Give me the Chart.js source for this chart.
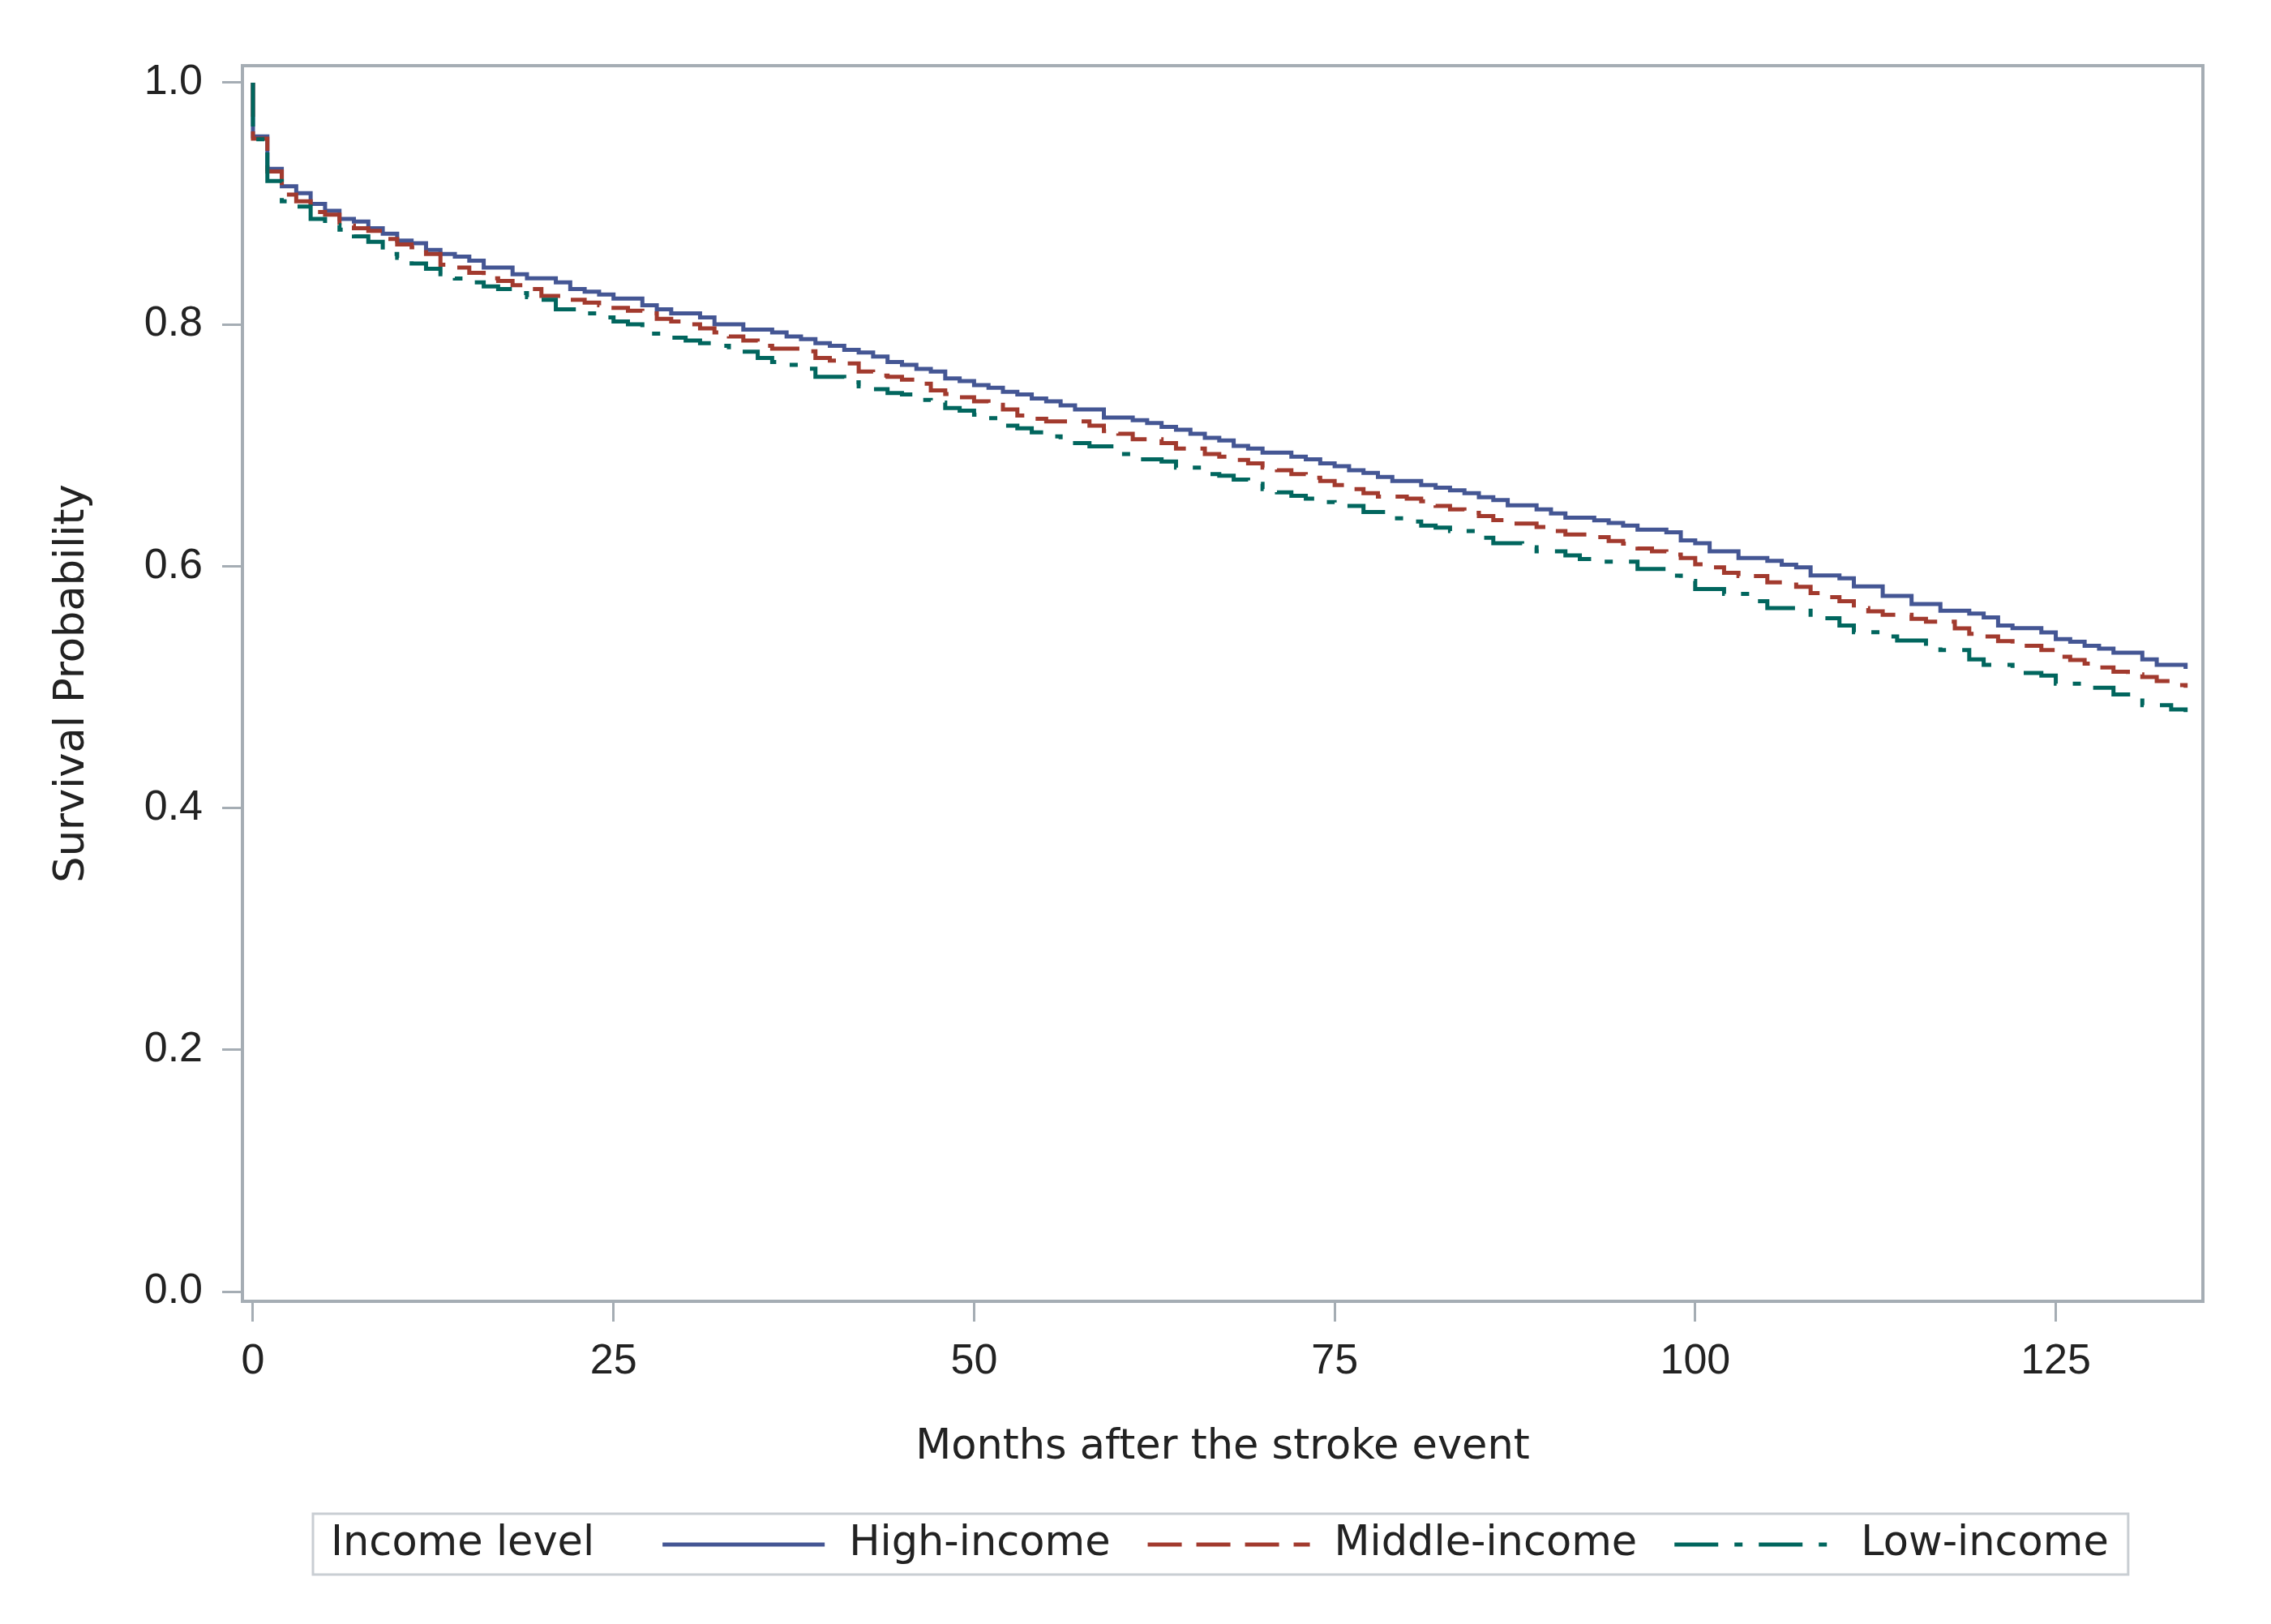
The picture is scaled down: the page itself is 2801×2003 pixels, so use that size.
<!DOCTYPE html>
<html>
<head>
<meta charset="utf-8">
<title>Survival by income level</title>
<script src="https://cdn.jsdelivr.net/npm/chart.js@4.4.1/dist/chart.umd.min.js"></script>
<style>
  html, body { margin: 0; padding: 0; background: #fff; overflow: hidden; }
  canvas { display: block; }
</style>
</head>
<body>
<canvas id="kmChart" width="2801" height="2003"></canvas>
<script>
// Kaplan-Meier step points (month of the drop, survival after it)
var highMonths = [0, 0, 1, 2, 3, 4, 5, 6, 7, 8, 9, 10, 11, 12, 13, 14, 15, 16, 18, 19, 21, 22, 23, 24, 25, 27, 28, 29, 31, 32,
    34, 36, 37, 38, 39, 40, 41, 42, 43, 44, 45, 46, 47, 48, 49, 50, 51, 52, 53, 54, 55, 56, 57, 59, 61, 62, 63, 64, 65, 66,
    67, 68, 69, 70, 72, 73, 74, 75, 76, 77, 78, 79, 81, 82, 83, 84, 85, 86, 87, 89, 90, 91, 93, 94, 95, 96, 98, 99, 100, 101,
    103, 105, 106, 107, 108, 110, 111, 113, 115, 117, 119, 120, 121, 122, 124, 125, 126, 127, 128, 129, 131, 132, 134];
var highSurv = [1.0, 0.9555, 0.9287, 0.9142, 0.9086, 0.8996, 0.894, 0.8873, 0.8851, 0.8795, 0.875, 0.8694, 0.8672, 0.8616, 0.8583, 0.856, 0.8527, 0.8471, 0.8415, 0.8382, 0.8348, 0.8292, 0.827, 0.8248, 0.8214, 0.8158, 0.8124, 0.8091, 0.8058, 0.8001,
    0.7957, 0.7934, 0.7901, 0.7879, 0.7845, 0.7823, 0.7789, 0.7767, 0.7734, 0.7689, 0.7666, 0.7632, 0.761, 0.7553, 0.7532, 0.7498, 0.7476, 0.7442, 0.742, 0.7387, 0.7364, 0.7331, 0.7297, 0.723, 0.7208, 0.7185, 0.7152, 0.7129, 0.7096, 0.7062,
    0.704, 0.6995, 0.6973, 0.694, 0.6906, 0.6884, 0.685, 0.6828, 0.6794, 0.6772, 0.6739, 0.6705, 0.6671, 0.6649, 0.6627, 0.6604, 0.6571, 0.6548, 0.6504, 0.647, 0.6436, 0.6402, 0.638, 0.6358, 0.6336, 0.6302, 0.628, 0.6213, 0.619, 0.6123,
    0.6068, 0.6045, 0.6012, 0.599, 0.5923, 0.59, 0.5833, 0.5755, 0.5688, 0.5632, 0.5609, 0.5576, 0.5509, 0.5487, 0.5453, 0.5397, 0.5375, 0.5341, 0.5319, 0.5285, 0.5229, 0.5185, 0.5151];

var middleMonths = [0, 0, 1, 2, 3, 4, 5, 6, 7, 8, 9, 10, 11, 12, 13, 14, 15, 16, 17, 18, 19, 20, 22, 23, 24, 25, 26, 27, 28, 29,
    30, 31, 32, 33, 34, 35, 36, 38, 39, 40, 41, 42, 43, 44, 45, 46, 47, 48, 49, 50, 51, 52, 53, 54, 55, 58, 59, 60, 61, 63,
    64, 66, 67, 68, 69, 70, 71, 72, 73, 74, 75, 76, 77, 78, 80, 81, 82, 83, 84, 85, 86, 87, 89, 90, 91, 93, 94, 95, 96, 97,
    98, 99, 100, 101, 102, 103, 105, 107, 108, 109, 110, 111, 112, 113, 115, 116, 118, 119, 120, 121, 122, 124, 125, 126, 127, 128, 129, 130,
    131, 132, 133, 134];
var middleSurv = [1.0, 0.9537, 0.9265, 0.9074, 0.9018, 0.8929, 0.8907, 0.8817, 0.8795, 0.8773, 0.8706, 0.8661, 0.8638, 0.8583, 0.8493, 0.8471, 0.8426, 0.8382, 0.8359, 0.8325, 0.8292, 0.8236, 0.8203, 0.818, 0.8158, 0.8136, 0.8113, 0.8091, 0.8046, 0.8024,
    0.8001, 0.7968, 0.7934, 0.7901, 0.7867, 0.7823, 0.78, 0.7778, 0.7722, 0.77, 0.7677, 0.761, 0.7577, 0.7566, 0.7543, 0.7509, 0.7454, 0.7424, 0.7398, 0.7364, 0.7335, 0.7297, 0.7246, 0.7219, 0.7197, 0.7163, 0.7118, 0.7096, 0.7051, 0.7018,
    0.6973, 0.6928, 0.6906, 0.688, 0.685, 0.6816, 0.6794, 0.6761, 0.6732, 0.6705, 0.6671, 0.6638, 0.6604, 0.6575, 0.6559, 0.6537, 0.6499, 0.647, 0.6441, 0.6414, 0.6381, 0.6352, 0.6325, 0.6291, 0.6262, 0.624, 0.6208, 0.6186, 0.6146, 0.6123,
    0.6097, 0.6068, 0.6016, 0.599, 0.5945, 0.5918, 0.5867, 0.5829, 0.5777, 0.5744, 0.571, 0.5654, 0.5627, 0.5598, 0.5564, 0.5542, 0.5486, 0.5441, 0.5419, 0.5381, 0.5341, 0.5307, 0.5251, 0.5224, 0.5195, 0.5162, 0.5128, 0.5106,
    0.5084, 0.505, 0.5017, 0.4994];

var lowMonths = [0, 0, 1, 2, 3, 4, 5, 6, 7, 8, 9, 10, 11, 12, 13, 14, 15, 16, 17, 18, 19, 20, 21, 23, 24, 25, 26, 27, 29, 30,
    31, 32, 33, 35, 36, 37, 38, 39, 41, 42, 43, 44, 45, 46, 47, 48, 49, 50, 51, 52, 53, 54, 55, 56, 57, 58, 60, 61, 63, 64,
    66, 67, 68, 69, 70, 71, 72, 73, 74, 75, 77, 79, 80, 81, 82, 83, 85, 86, 88, 89, 91, 92, 93, 96, 98, 99, 100, 102, 104, 105,
    108, 110, 111, 113, 114, 116, 117, 119, 120, 122, 124, 125, 127, 129, 131, 133, 134];
var lowSurv = [1.0, 0.9532, 0.9186, 0.9018, 0.8974, 0.8873, 0.882, 0.8784, 0.8728, 0.8683, 0.8583, 0.855, 0.8504, 0.846, 0.8415, 0.838, 0.8348, 0.8314, 0.8292, 0.8259, 0.8225, 0.8203, 0.8124, 0.8091, 0.8058, 0.8024, 0.8001, 0.7923, 0.789, 0.7867,
    0.7845, 0.7823, 0.7774, 0.7722, 0.7689, 0.7666, 0.7633, 0.7566, 0.7521, 0.7488, 0.7465, 0.7432, 0.742, 0.7376, 0.7353, 0.7309, 0.7286, 0.7253, 0.7224, 0.7163, 0.7141, 0.7107, 0.7073, 0.7044, 0.7018, 0.6991, 0.6928, 0.6884, 0.6866, 0.6816,
    0.6761, 0.6749, 0.6716, 0.6682, 0.6638, 0.6611, 0.6582, 0.6559, 0.653, 0.6499, 0.6448, 0.6396, 0.6369, 0.6336, 0.632, 0.6291, 0.6235, 0.619, 0.6157, 0.6123, 0.609, 0.606, 0.6038, 0.5978, 0.5922, 0.5878, 0.5811, 0.5771, 0.571, 0.5654,
    0.557, 0.551, 0.5454, 0.5419, 0.5386, 0.5341, 0.5307, 0.5229, 0.5185, 0.5118, 0.5095, 0.5028, 0.4995, 0.4939, 0.485, 0.4816, 0.4794];

var seriesNames = ['High-income', 'Middle-income', 'Low-income'];
var seriesColors = ['#445694', '#A23A2E', '#01665E'];
var xTicks = [0, 25, 50, 75, 100, 125];
var yTicks = [0, 0.2, 0.4, 0.6, 0.8, 1.0];
var legendTitle = 'Income level';

var axisGray = '#a5adb4';
var textColor = '#222222';
var tickFont = { family: '"Liberation Sans Narrow", "Liberation Sans", Arial', size: 52 };
var titleFont = { family: '"DejaVu Sans", Arial', size: 51 };

function toPoints(months, surv) {
    var pts = [];
    for (var i = 0; i < months.length; i++) {
        pts.push({ x: months[i], y: surv[i] });
    }
    return pts;
}

// box around the plot area
var frame = {
    id: 'frame',
    afterDatasetsDraw: function (chart) {
        var a = chart.chartArea;
        var ctx = chart.ctx;
        ctx.save();
        ctx.strokeStyle = axisGray;
        ctx.lineWidth = 4;
        ctx.strokeRect(a.left, a.top, a.right - a.left, a.bottom - a.top);
        ctx.restore();
    }
};

// SAS style legend in a box, title inline
var legendBox = {
    id: 'legendBox',
    afterDraw: function (chart) {
        var ctx = chart.ctx;
        var y = 1905;
        var x = 408;
        ctx.save();
        ctx.font = titleFont.size + 'px ' + titleFont.family;
        ctx.textBaseline = 'middle';
        ctx.fillStyle = textColor;
        ctx.fillText(legendTitle, x, y);
        x += ctx.measureText(legendTitle).width + 84;
        chart.data.datasets.forEach(function (ds) {
            ctx.strokeStyle = ds.borderColor;
            ctx.lineWidth = 5;
            ctx.setLineDash(ds.borderDash || []);
            ctx.beginPath();
            ctx.moveTo(x, y);
            ctx.lineTo(x + 200, y);
            ctx.stroke();
            ctx.setLineDash([]);
            x += 230;
            ctx.fillText(ds.label, x, y);
            x += ctx.measureText(ds.label).width + 46;
        });
        ctx.strokeStyle = '#c9ced3';
        ctx.lineWidth = 3;
        ctx.strokeRect(386, 1867, x - 46 + 24 - 386, 75);
        ctx.restore();
    }
};

var ctx = document.getElementById('kmChart').getContext('2d');
var kmChart = new Chart(ctx, {
    type: 'line',
    data: {
        datasets: [{
            label: seriesNames[0],
            data: toPoints(highMonths, highSurv),
            borderColor: seriesColors[0],
            borderWidth: 5,
            stepped: 'before',
            pointRadius: 0,
            fill: false,
            order: 2
        }, {
            label: seriesNames[1],
            data: toPoints(middleMonths, middleSurv),
            borderColor: seriesColors[1],
            borderWidth: 5,
            borderDash: [42, 18],
            stepped: 'before',
            pointRadius: 0,
            fill: false,
            order: 1
        }, {
            label: seriesNames[2],
            data: toPoints(lowMonths, lowSurv),
            borderColor: seriesColors[2],
            borderWidth: 5,
            borderDash: [54, 20, 10, 20],
            stepped: 'before',
            pointRadius: 0,
            fill: false,
            order: 0
        }]
    },
    options: {
        responsive: false,
        devicePixelRatio: 1,
        animation: false,
        layout: { padding: { left: 0, top: 81, right: 84, bottom: 143 } },
        plugins: {
            legend: { display: false },
            tooltip: { enabled: false }
        },
        scales: {
            x: {
                type: 'linear',
                min: -0.73,
                max: 135.2,
                afterBuildTicks: function (scale) {
                    scale.ticks = xTicks.map(function (v) { return { value: v }; });
                },
                afterFit: function (scale) { scale.height = 255; },
                grid: {
                    drawOnChartArea: false,
                    drawTicks: true,
                    tickLength: 25,
                    tickWidth: 3,
                    tickColor: axisGray
                },
                border: { display: false },
                ticks: {
                    padding: 18,
                    color: textColor,
                    font: tickFont,
                    maxRotation: 0
                },
                title: {
                    display: true,
                    text: 'Months after the stroke event',
                    color: textColor,
                    font: titleFont,
                    padding: { top: 0, bottom: 44 }
                }
            },
            y: {
                type: 'linear',
                min: -0.008,
                max: 1.014,
                afterBuildTicks: function (scale) {
                    scale.ticks = yTicks.map(function (v) { return { value: v }; });
                },
                afterFit: function (scale) { scale.width = 299; },
                grid: {
                    drawOnChartArea: false,
                    drawTicks: true,
                    tickLength: 25,
                    tickWidth: 3,
                    tickColor: axisGray
                },
                border: { display: false },
                ticks: {
                    padding: 24,
                    color: textColor,
                    font: tickFont,
                    callback: function (v) { return v.toFixed(1); }
                },
                title: {
                    display: true,
                    text: 'Survival Probability',
                    color: textColor,
                    font: titleFont,
                    padding: { top: 59, bottom: 0 }
                }
            }
        }
    },
    plugins: [frame, legendBox]
});
</script>
</body>
</html>
